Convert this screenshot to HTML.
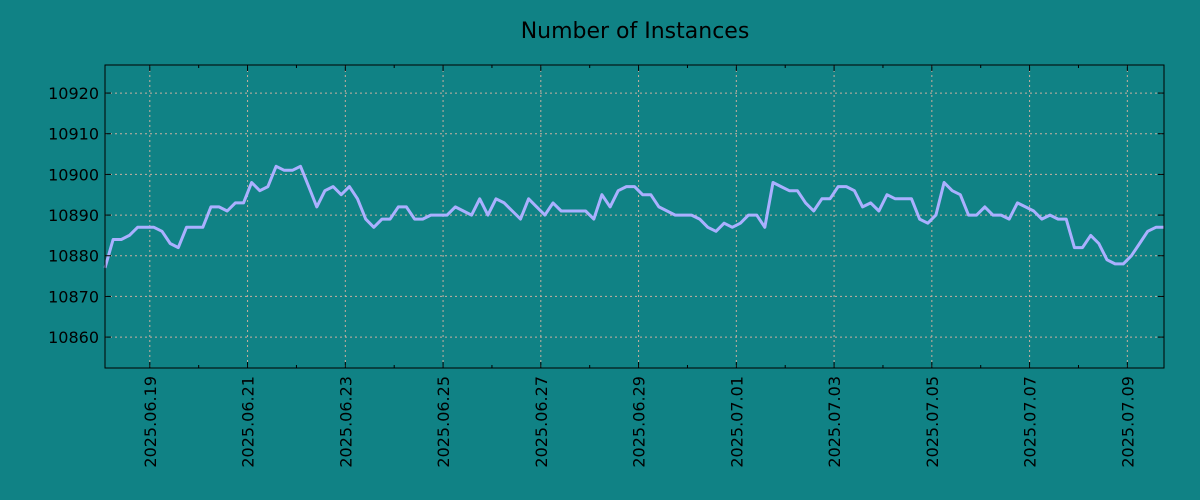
<!DOCTYPE html>
<html><head><meta charset="utf-8">
<style>
html,body{margin:0;padding:0;background:#108285;}
svg{display:block;font-family:"DejaVu Sans","Liberation Sans",sans-serif;}
</style></head>
<body>
<svg id="chart" width="1200" height="500">
<rect x="0" y="0" width="1200" height="500" fill="#108285"/>
<text x="635" y="38" text-anchor="middle" font-size="22" fill="#000">Number of Instances</text>
<g id="grid"></g>
<g id="series"></g>
<g id="axes"></g>
</svg>
<script>
const startLabel = "2025.06.18 02:00";
const stepHours = 4;
const values = [10877,10884,10884,10885,10887,10887,10887,10886,10883,10882,10887,10887,10887,10892,10892,10891,10893,10893,10898,10896,10897,10902,10901,10901,10902,10897,10892,10896,10897,10895,10897,10894,10889,10887,10889,10889,10892,10892,10889,10889,10890,10890,10890,10892,10891,10890,10894,10890,10894,10893,10891,10889,10894,10892,10890,10893,10891,10891,10891,10891,10889,10895,10892,10896,10897,10897,10895,10895,10892,10891,10890,10890,10890,10889,10887,10886,10888,10887,10888,10890,10890,10887,10898,10897,10896,10896,10893,10891,10894,10894,10897,10897,10896,10892,10893,10891,10895,10894,10894,10894,10889,10888,10890,10898,10896,10895,10890,10890,10892,10890,10890,10889,10893,10892,10891,10889,10890,10889,10889,10882,10882,10885,10883,10879,10878,10878,10880,10883,10886,10887,10887];
const yTicks = [10860,10870,10880,10890,10900,10910,10920];
const xTickLabels = ["2025.06.19","2025.06.21","2025.06.23","2025.06.25","2025.06.27","2025.06.29","2025.07.01","2025.07.03","2025.07.05","2025.07.07","2025.07.09"];
const firstTickHour = 22;

const L=105,R=1164,T=65,B=368;
const yMin=10852.4,yMax=10926.9;
const totalH=(values.length-1)*stepHours;
const xs=h=>L+(h/totalH)*(R-L);
const ys=v=>B-(v-yMin)/(yMax-yMin)*(B-T);
const NS="http://www.w3.org/2000/svg";
function mk(tag,attrs,parent){const e=document.createElementNS(NS,tag);for(const k in attrs)e.setAttribute(k,attrs[k]);parent.appendChild(e);return e;}
const grid=document.getElementById('grid'),axes=document.getElementById('axes'),series=document.getElementById('series');

yTicks.forEach(v=>{
  const y=ys(v);
  const g=mk('line',{x1:L,x2:R,y1:y,y2:y,stroke:'#c8b0a0','stroke-width':1,'stroke-dasharray':'2,3'},grid);
  
  
  const t1=mk('line',{x1:L,x2:L+6,y1:y,y2:y,stroke:'#000'},axes);
  
  
  const t2=mk('line',{x1:R-6,x2:R,y1:y,y2:y,stroke:'#000'},axes);
  
  
  const lb=mk('text',{x:L-6,y:y+6,'text-anchor':'end','font-size':16,fill:'#000'},axes);
  lb.textContent=v;
  
  
});
for(let d=-1;d<=xTickLabels.length*2;d++){
  const h=firstTickHour+d*24;
  if(h<0||h>totalH)continue;
  const x=xs(h);
  const major=d%2===0;
  const len=major?6:3;
  const a=mk('line',{x1:x,x2:x,y1:B-len,y2:B,stroke:'#000'},axes);
  
  
  const b=mk('line',{x1:x,x2:x,y1:T,y2:T+len,stroke:'#000'},axes);
  
  
  if(major && xTickLabels[d/2]){
    const g=mk('line',{x1:x,x2:x,y1:T,y2:B,stroke:'#c8b0a0','stroke-width':1,'stroke-dasharray':'2,3'},grid);
    
    
    const lb=mk('text',{x:x+6,y:B+8,'text-anchor':'end','font-size':16,fill:'#000',transform:`rotate(-90 ${x+6} ${B+8})`},axes);
    lb.textContent=xTickLabels[d/2];
    
    
  }
}
const pts=values.map((v,i)=>xs(i*stepHours).toFixed(1)+','+ys(v).toFixed(1)).join(' ');
const line=mk('polyline',{points:pts,fill:'none',stroke:'#aab0ff','stroke-width':3,'stroke-linejoin':'round'},series);


const frame=mk('rect',{x:L,y:T,width:R-L,height:B-T,fill:'none',stroke:'#000','stroke-width':1},axes);


</script>
</body></html>
